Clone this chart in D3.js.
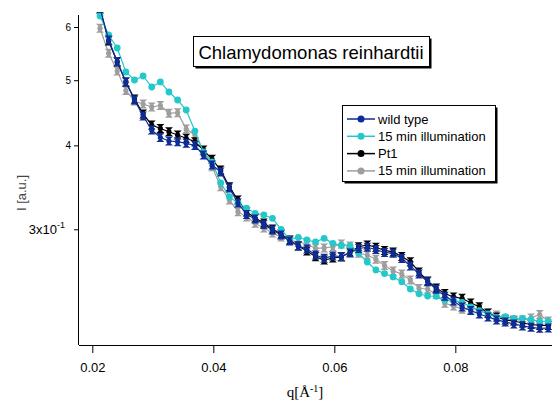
<!DOCTYPE html>
<html><head><meta charset="utf-8">
<script src="https://cdn.jsdelivr.net/npm/d3@7"></script>
<style>body{margin:0;background:#fff}svg{display:block}</style>
</head><body>
<svg id="c" width="552" height="400" style="font-family:'Liberation Sans',Arial,sans-serif"></svg>
<script>
const q = [0.02127,0.02270,0.02412,0.02555,0.02697,0.02840,0.02982,0.03125,0.03267,0.03410,0.03552,0.03695,0.03837,0.03980,0.04122,0.04265,0.04407,0.04550,0.04692,0.04835,0.04977,0.05120,0.05262,0.05405,0.05547,0.05690,0.05832,0.05975,0.06117,0.06260,0.06402,0.06545,0.06687,0.06830,0.06972,0.07115,0.07257,0.07400,0.07542,0.07685,0.07827,0.07970,0.08112,0.08255,0.08397,0.08540,0.08682,0.08825,0.08967,0.09110,0.09252,0.09395,0.09537];
const wildType = [0.6404,0.5739,0.5331,0.4970,0.4672,0.4423,0.4216,0.4109,0.4060,0.4050,0.4028,0.3998,0.3870,0.3739,0.3651,0.3456,0.3283,0.3156,0.3108,0.3050,0.2993,0.2942,0.2882,0.2833,0.2804,0.2747,0.2716,0.2738,0.2733,0.2766,0.2809,0.2821,0.2799,0.2771,0.2763,0.2714,0.2646,0.2574,0.2507,0.2442,0.2385,0.2347,0.2299,0.2271,0.2244,0.2221,0.2199,0.2184,0.2169,0.2154,0.2144,0.2137,0.2139];
const wtIllum = [0.6231,0.5838,0.5584,0.5143,0.5004,0.5073,0.4885,0.4970,0.4802,0.4672,0.4515,0.4201,0.3910,0.3778,0.3516,0.3355,0.3280,0.3224,0.3169,0.3151,0.3115,0.3000,0.2899,0.2919,0.2892,0.2872,0.2909,0.2859,0.2838,0.2833,0.2763,0.2682,0.2610,0.2578,0.2548,0.2507,0.2445,0.2405,0.2387,0.2385,0.2355,0.2351,0.2336,0.2299,0.2271,0.2244,0.2218,0.2224,0.2211,0.2211,0.2202,0.2186,0.2190];
const pt1 = [0.6380,0.5719,0.5322,0.4970,0.4688,0.4454,0.4289,0.4238,0.4191,0.4144,0.4098,0.4050,0.3937,0.3813,0.3676,0.3471,0.3317,0.3183,0.3118,0.3065,0.3003,0.2952,0.2892,0.2833,0.2785,0.2731,0.2700,0.2719,0.2728,0.2776,0.2826,0.2843,0.2821,0.2790,0.2776,0.2733,0.2685,0.2592,0.2513,0.2453,0.2408,0.2379,0.2368,0.2330,0.2301,0.2252,0.2221,0.2199,0.2191,0.2176,0.2165,0.2158,0.2158];
const pt1Illum = [0.5974,0.5483,0.5160,0.4827,0.4656,0.4609,0.4562,0.4585,0.4464,0.4473,0.4230,0.4144,0.3923,0.3718,0.3471,0.3317,0.3187,0.3129,0.3062,0.3013,0.2962,0.2922,0.2892,0.2872,0.2853,0.2811,0.2814,0.2826,0.2853,0.2833,0.2763,0.2747,0.2707,0.2650,0.2601,0.2574,0.2522,0.2449,0.2445,0.2399,0.2328,0.2307,0.2281,0.2282,0.2289,0.2250,0.2237,0.2210,0.2199,0.2199,0.2214,0.2240,0.2191];
const seriesNames = ["wild type","15 min illumination","Pt1","15 min illumination"];
const xTicks = [0.02,0.04,0.06,0.08];
const yTicks = [0.3,0.4,0.5,0.6];
const yTickLabels = ["3x10","4","5","6"];
const title = "Chlamydomonas reinhardtii";

const colors = ["#0e2c98","#22c8ca","#000000","#9e9e9e"];
const data = [wildType, wtIllum, pt1, pt1Illum];
const SANS = "'Liberation Sans', Arial, sans-serif";
const SERIF = "'Liberation Serif', 'Times New Roman', serif";
const svg = d3.select("#c");
const L=79, R=552, T=15, B=345;
const x = d3.scaleLinear().domain([0.0178,0.09598]).range([L,R]);
const y = d3.scaleLog().domain([0.2018,0.6252]).range([B,T]);

svg.append("defs").append("clipPath").attr("id","clip").append("rect")
  .attr("x",L).attr("y",12).attr("width",R-L+5).attr("height",B-12);

// axes
const xa = svg.append("g").attr("transform",`translate(0,${B})`)
  .call(d3.axisBottom(x).tickValues(xTicks).tickSize(8).tickFormat(d3.format(".2f")).tickPadding(10));
xa.select(".domain").attr("d",`M${L},0.5H${R}`).attr("stroke","#000");
xa.selectAll("text").attr("fill","#000").style("font-family",SANS).style("font-size","13px");
const ya = svg.append("g").attr("transform",`translate(${L},0)`)
  .call(d3.axisLeft(y).tickValues(yTicks).tickSize(5).tickFormat((d,i)=>yTickLabels[i]).tickPadding(3));
ya.select(".domain").attr("d",`M-0.5,${T}V${B}`).attr("stroke","#000");
ya.selectAll(".tick text").attr("fill","#000").style("font-family",SANS)
  .style("font-size",(d,i)=> i===0?"13px":"10px");
ya.selectAll(".tick").filter((d,i)=>i===0).select("text").each(function(){
  const t=d3.select(this); t.attr("dx",-6);
  t.append("tspan").style("font-size","9px").attr("dy",-6).text("-1");
});

// axis titles
const xl = svg.append("text").attr("x",305).attr("y",397).attr("text-anchor","middle")
  .style("font-family",SERIF).style("font-size","15px").attr("fill","#000");
xl.append("tspan").text("q[Å");
xl.append("tspan").style("font-size","10px").attr("dy",-5).text("-1");
xl.append("tspan").attr("dy",5).text("]");
svg.append("text").attr("transform","translate(26,193) rotate(-90)").attr("text-anchor","middle")
  .style("font-family",SANS).style("font-size","13px").attr("fill","#444").text("I [a.u.]");

// series
const plot = svg.append("g").attr("clip-path","url(#clip)");
const order = [3,2,1,0];
const line = d3.line().x((d,i)=>x(q[i])).y(d=>y(d));
order.forEach(s=>{
  const g = plot.append("g");
  g.append("path").datum(data[s]).attr("d",line).attr("fill","none").attr("stroke",colors[s]).attr("stroke-width",1.2);
  const m = g.selectAll("g.m").data(data[s]).join("g").attr("class","m")
    .attr("transform",(d,i)=>`translate(${x(q[i])},${y(d)})`);
  if (s===1) {
    m.append("circle").attr("r",3.4).attr("fill",colors[s]);
  } else {
    m.append("path").attr("d","M-4,-4.5H4L0.8,-1.5V1.5L4,4.5H-4L-0.8,1.5V-1.5Z").attr("fill",colors[s]);
    m.append("circle").attr("r",2.6).attr("fill",colors[s]);
  }
});

// boxes with drop shadow
function shadowBox(x0,y0,w,h){
  svg.append("rect").attr("x",x0+2).attr("y",y0+2).attr("width",w).attr("height",h).attr("fill","#000");
  svg.append("rect").attr("x",x0).attr("y",y0).attr("width",w).attr("height",h).attr("fill","#fff").attr("stroke","#000").attr("stroke-width",1);
}
shadowBox(193.5,36.5,236,30);
svg.append("text").attr("x",311).attr("y",58.5).attr("text-anchor","middle")
  .style("font-family",SANS).style("font-size","18.5px").attr("fill","#000").text(title);

// legend
shadowBox(342.5,105.5,153,76);
seriesNames.forEach((n,i)=>{
  const cy = 119 + i*17.3;
  svg.append("line").attr("x1",347).attr("x2",375).attr("y1",cy).attr("y2",cy).attr("stroke",colors[i]).attr("stroke-width",1.5);
  svg.append("circle").attr("cx",361).attr("cy",cy).attr("r",3.5).attr("fill",colors[i]);
  svg.append("text").attr("x",378).attr("y",cy+4.5).style("font-family",SANS).style("font-size","13px").attr("fill","#000").text(n);
});
</script>
</body></html>
